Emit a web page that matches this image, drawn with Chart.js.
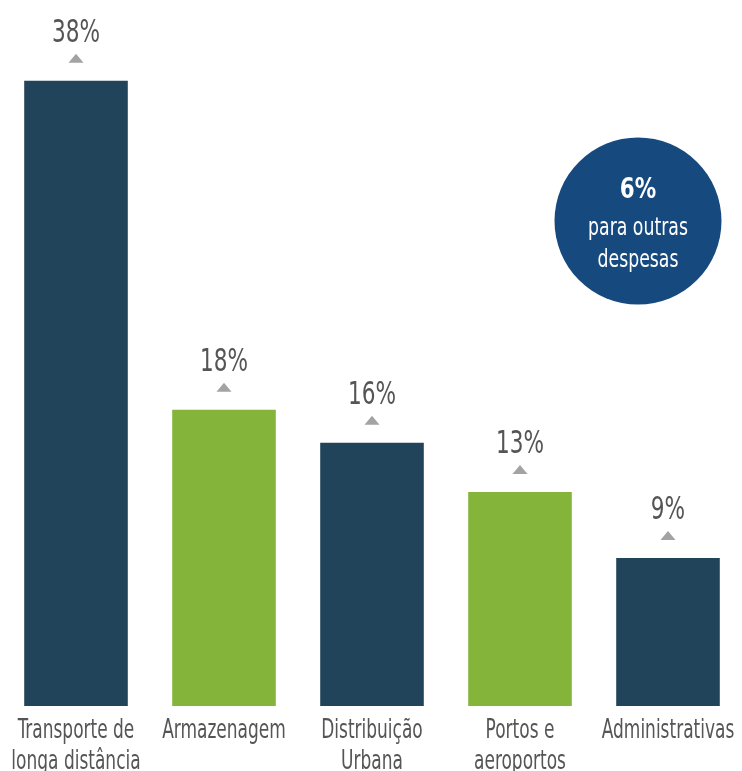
<!DOCTYPE html>
<html>
<head>
<meta charset="utf-8">
<script src="https://cdn.jsdelivr.net/npm/chart.js@4"></script>
<style>
  html, body { margin: 0; padding: 0; background: #ffffff; overflow: hidden; }
  canvas { display: block; }
</style>
</head>
<body>
<canvas id="c" width="742" height="771"></canvas>
<script>
// Custos logísticos por categoria (%)
const categories = [
  ['Transporte de', 'longa distância'],
  ['Armazenagem'],
  ['Distribuição', 'Urbana'],
  ['Portos e', 'aeroportos'],
  ['Administrativas']
];
const shares = [38, 18, 16, 13, 9];
const otherShare = 6;
const otherLabel = ['para outras', 'despesas'];

const DARK = '#22445a';
const GREEN = '#84b53a';
const barColors = [DARK, GREEN, DARK, GREEN, DARK];
const FONT = "'DejaVu Sans Condensed', 'DejaVu Sans', sans-serif";

// Draw text squeezed horizontally for a condensed look
function narrowText(ctx, text, x, y, squeeze) {
  ctx.save();
  ctx.translate(x, y);
  ctx.scale(squeeze, 1);
  ctx.fillText(text, 0, 0);
  ctx.restore();
}

// Category names under each bar
const categoryLabels = {
  id: 'categoryLabels',
  afterDraw(chart) {
    const ctx = chart.ctx;
    const xs = chart.scales.x;
    const base = chart.chartArea.bottom;
    ctx.save();
    ctx.fillStyle = '#555555';
    ctx.font = '27px ' + FONT;
    ctx.textAlign = 'center';
    ctx.textBaseline = 'alphabetic';
    categories.forEach((lines, i) => {
      const x = xs.getPixelForValue(i);
      lines.forEach((line, j) => narrowText(ctx, line, x, base + 32 + j * 31, 0.7));
    });
    ctx.restore();
  }
};

// Value labels with a small grey marker above each bar
const valueLabels = {
  id: 'valueLabels',
  afterDatasetsDraw(chart) {
    const ctx = chart.ctx;
    const meta = chart.getDatasetMeta(0);
    ctx.save();
    meta.data.forEach((bar, i) => {
      const x = bar.x, top = bar.y;
      ctx.fillStyle = '#a3a3a3';
      ctx.beginPath();
      ctx.moveTo(x - 7.5, top - 18);
      ctx.lineTo(x + 7.5, top - 18);
      ctx.lineTo(x, top - 27);
      ctx.closePath();
      ctx.fill();
      ctx.fillStyle = '#555555';
      ctx.font = '32px ' + FONT;
      ctx.textAlign = 'center';
      ctx.textBaseline = 'alphabetic';
      narrowText(ctx, shares[i] + '%', x, top - 39, 0.75);
    });
    ctx.restore();
  }
};

// Badge for the remaining share
const otherBadge = {
  id: 'otherBadge',
  afterDraw(chart) {
    const ctx = chart.ctx;
    const area = chart.chartArea;
    const cx = area.right - 104, cy = area.top + 221, r = 83.5;
    ctx.save();
    ctx.fillStyle = '#164a7e';
    ctx.beginPath();
    ctx.arc(cx, cy, r, 0, Math.PI * 2);
    ctx.fill();
    ctx.fillStyle = '#ffffff';
    ctx.textAlign = 'center';
    ctx.textBaseline = 'alphabetic';
    ctx.font = 'bold 28px ' + FONT;
    narrowText(ctx, otherShare + '%', cx, cy - 23, 0.85);
    ctx.font = '25px ' + FONT;
    narrowText(ctx, otherLabel[0], cx, cy + 14, 0.77);
    narrowText(ctx, otherLabel[1], cx, cy + 46, 0.77);
    ctx.restore();
  }
};

new Chart(document.getElementById('c'), {
  type: 'bar',
  data: {
    labels: categories,
    datasets: [{
      data: shares,
      backgroundColor: barColors,
      borderWidth: 0,
      barPercentage: 0.7,
      categoryPercentage: 1.0
    }]
  },
  options: {
    responsive: false,
    animation: false,
    layout: { padding: { left: 2, right: 0, top: 0, bottom: 65 } },
    plugins: { legend: { display: false }, tooltip: { enabled: false } },
    scales: {
      x: { display: false },
      y: { display: false, min: 0, max: 42.9 }
    }
  },
  plugins: [valueLabels, categoryLabels, otherBadge]
});
</script>
</body>
</html>
